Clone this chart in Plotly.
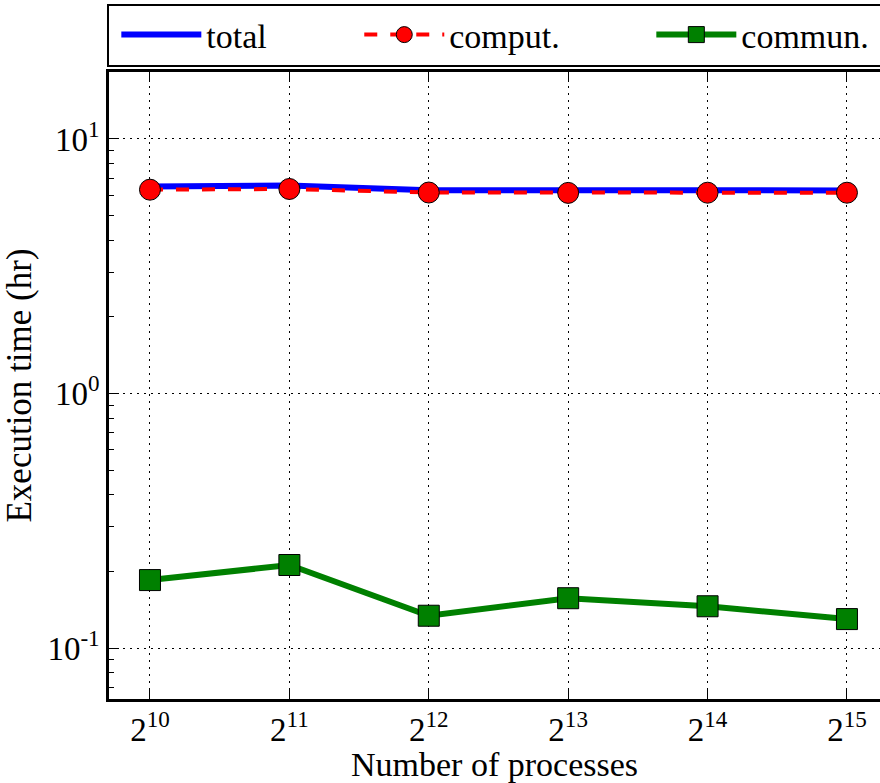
import plotly.graph_objects as go

# Number of processes as powers of two (exponents) and execution times in hours
exponents = [10, 11, 12, 13, 14, 15]
x_tick_labels = ["2<sup>10</sup>", "2<sup>11</sup>", "2<sup>12</sup>",
                 "2<sup>13</sup>", "2<sup>14</sup>", "2<sup>15</sup>"]
total_hr = [6.50, 6.57, 6.29, 6.29, 6.29, 6.28]
comput_hr = [6.32, 6.36, 6.16, 6.14, 6.15, 6.15]
commun_hr = [0.185, 0.212, 0.134, 0.157, 0.146, 0.130]

y_tick_vals = [0.1, 1, 10]
y_tick_labels = ["10<sup>-1</sup>", "10<sup>0</sup>", "10<sup>1</sup>"]
y_minor_vals = [0.07, 0.08, 0.09, 0.2, 0.3, 0.4, 0.5, 0.6, 0.7, 0.8, 0.9,
                2, 3, 4, 5, 6, 7, 8, 9]

FONT = "Liberation Serif, Times New Roman, serif"

fig = go.Figure()

fig.add_trace(go.Scatter(
    x=exponents, y=total_hr, name="total", mode="lines",
    line=dict(color="#0000ff", width=6), legend="legend",
))
fig.add_trace(go.Scatter(
    x=exponents, y=comput_hr, name="comput.", mode="lines+markers",
    line=dict(color="#ff0000", width=4, dash="13px,13px"),
    marker=dict(symbol="circle", size=21, color="#ff0000",
                line=dict(color="black", width=1)),
    legend="legend2",
))
fig.add_trace(go.Scatter(
    x=exponents, y=commun_hr, name="commun.", mode="lines+markers",
    line=dict(color="#008000", width=6),
    marker=dict(symbol="square", size=21, color="#008000",
                line=dict(color="black", width=1)),
    legend="legend3",
))

legend_common = dict(
    orientation="h", xanchor="left", yanchor="middle", y=1.059,
    bgcolor="rgba(0,0,0,0)", borderwidth=0, itemwidth=80,
    font=dict(family=FONT, size=34, color="black"),
)

fig.update_layout(
    width=880, height=783,
    margin=dict(l=109, r=0, t=72, b=84),
    paper_bgcolor="white", plot_bgcolor="white",
    font=dict(family=FONT, size=33, color="black"),
    showlegend=True,
    legend=dict(x=0.0095, **legend_common),
    legend2=dict(x=0.3246, **legend_common),
    legend3=dict(x=0.7034, **legend_common),
    shapes=[dict(
        type="rect", xref="paper", yref="paper",
        x0=-0.0013, x1=1.05, y0=1.0096, y1=1.107,
        line=dict(color="black", width=2), fillcolor="rgba(0,0,0,0)",
    )],
)

fig.update_xaxes(
    range=[9.706, 15.237],
    tickmode="array", tickvals=exponents, ticktext=x_tick_labels,
    ticks="inside", ticklen=10, tickwidth=1, tickcolor="black",
    showline=True, linecolor="black", linewidth=2.5, mirror="ticks",
    showgrid=True, gridcolor="black", gridwidth=1, griddash="2px,5px",
    zeroline=False,
    tickfont=dict(family=FONT, size=33, color="black"),
    title=dict(text="Number of processes", standoff=4,
               font=dict(family=FONT, size=34, color="black")),
)

fig.update_yaxes(
    type="log", range=[-1.2, 1.263],
    tickmode="array", tickvals=y_tick_vals, ticktext=y_tick_labels,
    ticks="inside", ticklen=10, tickwidth=1, tickcolor="black",
    minor=dict(tickmode="array", tickvals=y_minor_vals, ticks="inside",
               ticklen=5, tickwidth=1, tickcolor="black", showgrid=False),
    showline=True, linecolor="black", linewidth=2.5, mirror=False,
    showgrid=True, gridcolor="black", gridwidth=1, griddash="2px,5px",
    zeroline=False,
    tickfont=dict(family=FONT, size=33, color="black"),
    title=dict(text="Execution time (hr)", standoff=12,
               font=dict(family=FONT, size=35, color="black")),
)

fig.write_html("out.html")
